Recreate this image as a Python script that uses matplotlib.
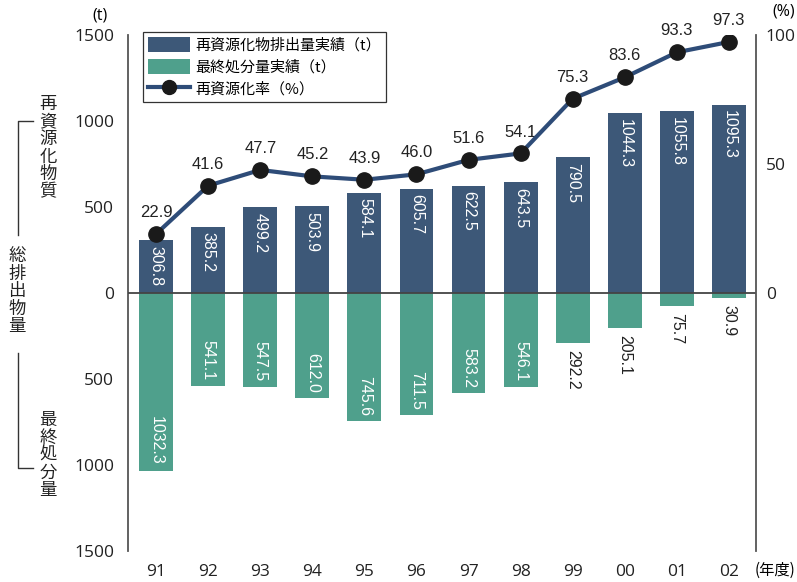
import matplotlib.pyplot as plt
from matplotlib.lines import Line2D
from matplotlib.patches import Patch
import numpy as np

plt.rcParams['font.family'] = ['Noto Sans CJK JP', 'DejaVu Sans']

# yearly data (fiscal years 1991-2002)
years = ['91', '92', '93', '94', '95', '96', '97', '98', '99', '00', '01', '02']
recycled = [306.8, 385.2, 499.2, 503.9, 584.1, 605.7, 622.5, 643.5, 790.5, 1044.3, 1055.8, 1095.3]
disposed = [1032.3, 541.1, 547.5, 612.0, 745.6, 711.5, 583.2, 546.1, 292.2, 205.1, 75.7, 30.9]
rate = [22.9, 41.6, 47.7, 45.2, 43.9, 46.0, 51.6, 54.1, 75.3, 83.6, 93.3, 97.3]
left_ticks = [-1500, -1000, -500, 0, 500, 1000, 1500]
right_ticks = [0, 50, 100]

BLUE = '#3d5878'
GREEN = '#4fa08c'
LINE = '#2e4c78'
GREY = '#444444'
NUM_FONT = ['Liberation Sans Narrow', 'Liberation Sans', 'DejaVu Sans']
TICK_FONT = ['Open Sans', 'DejaVu Sans']
TICK_SIZE = 12.5

W, H = 797, 582
fig = plt.figure(figsize=(W / 100, H / 100), dpi=100)
ax = fig.add_axes([128 / W, 1 - 551 / H, (756 - 128) / W, (551 - 35) / H])
ax2 = ax.twinx()

x = np.arange(len(years))
bw = 0.65
ax.bar(x, recycled, width=bw, color=BLUE, zorder=2)
ax.bar(x, [-v for v in disposed], width=bw, color=GREEN, zorder=2)
ax.axhline(0, color=GREY, lw=1.3, zorder=3)

for xi, v in zip(x, recycled):
    ax.annotate(f'{v:.1f}', (xi, v), xytext=(0, -4), textcoords='offset points',
                rotation=-90, ha='center', va='top', color='white',
                fontsize=11.5, family=NUM_FONT, zorder=4)
for xi, v in zip(x, disposed):
    if v > 400:
        ax.annotate(f'{v:.1f}', (xi, -v), xytext=(0, 4), textcoords='offset points',
                    rotation=-90, ha='center', va='bottom', color='white',
                    fontsize=11.5, family=NUM_FONT, zorder=4)
    else:
        ax.annotate(f'{v:.1f}', (xi, -v), xytext=(0, -5), textcoords='offset points',
                    rotation=-90, ha='center', va='top', color='#222222',
                    fontsize=11.5, family=NUM_FONT, zorder=4)

ax.set_xlim(-0.54, len(years) - 1 + 0.52)
ax.set_ylim(-1500, 1500)
ax.set_yticks(left_ticks)
ax.set_yticklabels([str(abs(t)) for t in left_ticks], family=TICK_FONT, fontsize=TICK_SIZE, color='#222222')
ax.set_xticks(x)
ax.set_xticklabels(years, family=TICK_FONT, fontsize=TICK_SIZE, color='#222222')
ax.tick_params(axis='both', length=0)
ax.tick_params(axis='x', pad=9)
ax.tick_params(axis='y', pad=10)

ax2.plot(x, rate, color=LINE, lw=3, marker='o', markersize=11,
         markerfacecolor='#1a1a1a', markeredgecolor='#1a1a1a', zorder=5)
for xi, r in zip(x, rate):
    ax2.annotate(f'{r:.1f}', (xi, r), xytext=(0, 10), textcoords='offset points',
                 ha='center', va='bottom', fontsize=12, family=NUM_FONT, color='#222222')
ax2.set_ylim(-100, 100)
ax2.set_yticks(right_ticks)
ax2.set_yticklabels([str(t) for t in right_ticks], family=TICK_FONT, fontsize=TICK_SIZE, color='#222222')
ax2.tick_params(axis='y', length=0, pad=7)

for a in (ax, ax2):
    for side in ('top', 'bottom'):
        a.spines[side].set_visible(False)
    a.spines['left'].set_color('#555555')
    a.spines['right'].set_color('#555555')
    a.spines['left'].set_linewidth(1.3)
    a.spines['right'].set_linewidth(1.3)
ax2.spines['left'].set_visible(False)
ax.spines['right'].set_visible(False)

handles = [
    Patch(facecolor=BLUE, edgecolor='none'),
    Patch(facecolor=GREEN, edgecolor='none'),
    Line2D([], [], color=LINE, lw=3, marker='o', markersize=10,
           markerfacecolor='#1a1a1a', markeredgecolor='#1a1a1a'),
]
labels = ['再資源化物排出量実績（t）', '最終処分量実績（t）', '再資源化率（%）']
leg = ax2.legend(handles, labels, loc='upper left', bbox_to_anchor=(143 / W, 1 - 32 / H),
                 bbox_transform=fig.transFigure, borderaxespad=0, fancybox=False,
                 framealpha=1, edgecolor='#333333', handlelength=2.8,
                 handleheight=1.1, handletextpad=0.35, labelspacing=0.45,
                 borderpad=0.35, prop={'family': ['Noto Sans CJK JP', 'DejaVu Sans'], 'size': 10.8})
leg.get_frame().set_linewidth(0.9)

# units
fig.text(100 / W, 1 - 16 / H, '(t)', ha='center', va='center', fontsize=11.5, family=TICK_FONT)
fig.text(784 / W, 1 - 12 / H, '(%)', ha='center', va='center', fontsize=11.5, family=TICK_FONT)
fig.text(755 / W, 1 - 570 / H, '(年度)', ha='left', va='center', fontsize=11)

# vertical side captions
def vtext(xpx, ytop, text, step=17.5):
    for i, ch in enumerate(text):
        fig.text(xpx / W, 1 - (ytop + i * step) / H, ch, ha='center', va='center',
                 fontsize=12.5, color='#222222')

vtext(48, 104, '再資源化物質')
vtext(17, 256, '総排出物量')
vtext(48, 420, '最終処分量')

# bracket lines
for xs, ys in [([33, 18, 18], [121, 121, 235]), ([18, 18, 33], [353, 468, 468])]:
    fig.add_artist(Line2D([v / W for v in xs], [1 - v / H for v in ys],
                          color='#333333', lw=1.0, transform=fig.transFigure))

fig.savefig('out.png', dpi=100)
